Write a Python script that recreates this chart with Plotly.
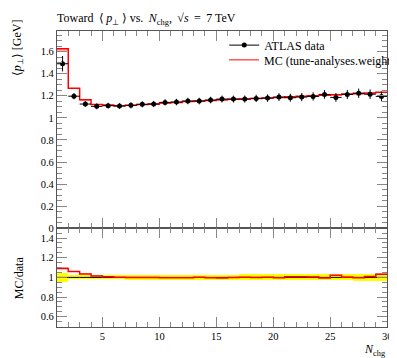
import plotly.graph_objects as go

# ---- data ----
bin_edges = list(range(1, 31))
bin_centers = [e + 0.5 for e in range(1, 30)]
data_vals = [1.49, 1.196, 1.125, 1.104, 1.11, 1.107, 1.113, 1.122, 1.125, 1.14,
             1.143, 1.152, 1.152, 1.161, 1.17, 1.17, 1.17, 1.176, 1.179, 1.188,
             1.182, 1.188, 1.194, 1.212, 1.185, 1.212, 1.223, 1.214, 1.194]
data_errs = [0.07, 0.028, 0.026, 0.026, 0.026, 0.026, 0.027, 0.027, 0.028, 0.028,
             0.029, 0.029, 0.03, 0.03, 0.031, 0.031, 0.032, 0.033, 0.034, 0.035,
             0.036, 0.037, 0.038, 0.039, 0.04, 0.041, 0.042, 0.043, 0.044]
mc_vals = [1.625, 1.268, 1.164, 1.12, 1.117, 1.11, 1.113, 1.12, 1.125, 1.135,
           1.14, 1.148, 1.153, 1.158, 1.163, 1.168, 1.171, 1.176, 1.18, 1.185,
           1.19, 1.195, 1.2, 1.205, 1.21, 1.215, 1.22, 1.225, 1.232]
mc_errs = [0.012, 0.006, 0.004, 0.004, 0.004, 0.004, 0.004, 0.004, 0.004, 0.004,
           0.004, 0.004, 0.004, 0.004, 0.004, 0.005, 0.005, 0.005, 0.005, 0.005,
           0.005, 0.006, 0.006, 0.006, 0.006, 0.007, 0.007, 0.008, 0.008]
main_yticks = [0, 0.2, 0.4, 0.6, 0.8, 1, 1.2, 1.4, 1.6]
ratio_yticks = [0.6, 0.8, 1, 1.2, 1.4]
x_ticks = [5, 10, 15, 20, 25, 30]

FONT = "Liberation Serif"
W, H = 397, 358
TS = "\u2009"  # thin space

def px(x):
    return x / W

def py(y):
    return 1 - y / H

ratio_vals = [m / d for m, d in zip(mc_vals, data_vals)]
ratio_mc_errs = [e / d for e, d in zip(mc_errs, data_vals)]
ratio_data_errs = [e / d for e, d in zip(data_errs, data_vals)]
ones = [1.0] * len(data_vals)

def step(vals):
    return vals + [vals[-1]]

fig = go.Figure()

# main panel: MC band + line
fig.add_trace(go.Bar(x=bin_centers, y=[2 * e for e in mc_errs],
                     base=[v - e for v, e in zip(mc_vals, mc_errs)], width=1,
                     marker=dict(color="rgba(255,0,0,0.3)", line=dict(width=0)),
                     xaxis="x", yaxis="y", showlegend=False, hoverinfo="skip"))
fig.add_trace(go.Scatter(x=bin_edges, y=step(mc_vals), mode="lines",
                         line=dict(color="#ff0000", width=1.5, shape="hv"),
                         xaxis="x", yaxis="y", showlegend=False))
# data points
fig.add_trace(go.Scatter(x=bin_centers, y=data_vals, mode="markers",
                         marker=dict(color="black", size=5),
                         error_x=dict(type="constant", value=0.5, width=0, thickness=1, color="black"),
                         error_y=dict(type="data", array=data_errs, width=0, thickness=1, color="black"),
                         xaxis="x", yaxis="y", showlegend=False))
# legend entries
fig.add_trace(go.Scatter(x=[None], y=[None], mode="lines+markers", name="ATLAS data",
                         marker=dict(color="black", size=5), line=dict(color="black", width=1),
                         xaxis="x", yaxis="y", legend="legend"))
fig.add_trace(go.Scatter(x=[None], y=[None], mode="lines", name="MC (tune-analyses.weights)",
                         line=dict(color="#ff0000", width=1),
                         xaxis="x", yaxis="y", legend="legend2"))

# ratio panel
fig.add_trace(go.Bar(x=bin_centers, y=[2 * e for e in ratio_data_errs],
                     base=[1 - e for e in ratio_data_errs], width=1,
                     marker=dict(color="#ffff00", line=dict(width=0)),
                     xaxis="x2", yaxis="y2", showlegend=False, hoverinfo="skip"))
fig.add_trace(go.Bar(x=bin_centers, y=[2 * e for e in ratio_mc_errs],
                     base=[r - e for r, e in zip(ratio_vals, ratio_mc_errs)], width=1,
                     marker=dict(color="rgba(255,0,0,0.3)", line=dict(width=0)),
                     xaxis="x2", yaxis="y2", showlegend=False, hoverinfo="skip"))
fig.add_trace(go.Scatter(x=bin_edges, y=step(ones), mode="lines",
                         line=dict(color="black", width=1, shape="hv"),
                         xaxis="x2", yaxis="y2", showlegend=False))
fig.add_trace(go.Scatter(x=bin_edges, y=step(ratio_vals), mode="lines",
                         line=dict(color="#ff0000", width=1.5, shape="hv"),
                         xaxis="x2", yaxis="y2", showlegend=False))

axis_common = dict(showgrid=False, zeroline=False, showline=True, linecolor="#555",
                   linewidth=1, mirror="allticks", ticks="inside", tickcolor="#888",
                   tickfont=dict(family=FONT, size=10.5, color="black"))
xdom = [px(49.5), px(384)]
minor_x = dict(dtick=1, tick0=0, ticklen=5, ticks="inside", tickcolor="#888")
minor_y = dict(dtick=0.05, tick0=0, ticklen=5, ticks="inside", tickcolor="#888")

title_text = ("Toward " + TS + "⟨" + TS + "<i>p</i><sub>⊥</sub>" + TS + "⟩ vs. "
              + TS + "<i>N</i><sub>chg</sub>, " + TS + "√<i>s</i> " + TS + "= " + TS + "7 TeV")

fig.update_layout(
    width=W, height=H, margin=dict(l=0, r=0, t=0, b=0),
    paper_bgcolor="white", plot_bgcolor="white", barmode="overlay", bargap=0,
    font=dict(family=FONT, size=12, color="black"),
    xaxis=dict(domain=xdom, anchor="y", range=[1, 30], tickvals=x_ticks, showticklabels=False,
               ticklen=10, minor=minor_x, **axis_common),
    yaxis=dict(domain=[py(224), py(23)], anchor="x", range=[0, 1.79], tickvals=main_yticks,
               ticklen=10, minor=minor_y, **axis_common),
    xaxis2=dict(domain=xdom, anchor="y2", range=[1, 30], tickvals=x_ticks, matches="x",
                ticklen=10, minor=minor_x, **axis_common),
    yaxis2=dict(domain=[py(324), py(224)], anchor="x2", range=[0.5, 1.5], tickvals=ratio_yticks,
                ticklen=10, minor=minor_y, **axis_common),
    legend=dict(x=px(219), y=py(23), xanchor="left", yanchor="top", bgcolor="rgba(0,0,0,0)",
                font=dict(family=FONT, size=12), itemwidth=30),
    legend2=dict(x=px(219), y=py(38), xanchor="left", yanchor="top", bgcolor="rgba(0,0,0,0)",
                 font=dict(family=FONT, size=12), itemwidth=30),
    annotations=[
        dict(text=title_text,
             xref="paper", yref="paper", x=px(48), y=py(11), xanchor="left", yanchor="middle",
             showarrow=False, font=dict(family=FONT, size=12)),
        dict(text="⟨<i>p</i><sub>⊥</sub>⟩ [GeV]", textangle=-90,
             xref="paper", yref="paper", x=px(10), y=py(40), xanchor="center", yanchor="middle",
             showarrow=False, font=dict(family=FONT, size=12)),
        dict(text="MC/data", textangle=-90,
             xref="paper", yref="paper", x=px(12), y=py(274), xanchor="center", yanchor="middle",
             showarrow=False, font=dict(family=FONT, size=12)),
        dict(text="<i>N</i><sub>chg</sub>",
             xref="paper", yref="paper", x=px(385), y=py(348), xanchor="right", yanchor="middle",
             showarrow=False, font=dict(family=FONT, size=12)),
    ],
)

fig.write_html("out.html")
